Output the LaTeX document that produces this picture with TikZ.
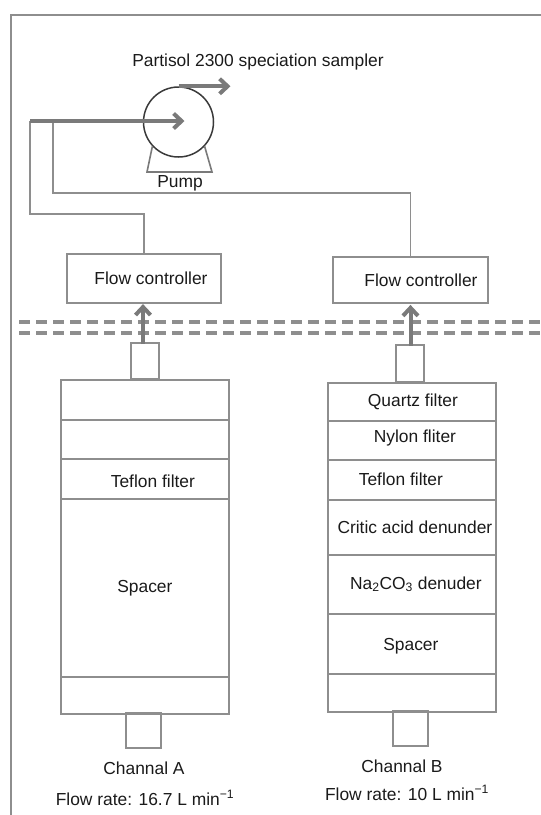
\documentclass[tikz,border=0pt]{standalone}
\usepackage{fontspec}
\setmainfont{Liberation Sans}
\usetikzlibrary{arrows.meta,positioning}

\definecolor{linegray}{HTML}{8E8E8E}
\definecolor{flowgray}{HTML}{7A7A7A}
\definecolor{pumpdark}{HTML}{3A3A3A}
\definecolor{txtdark}{HTML}{1A1A1A}

\begin{document}
\begin{tikzpicture}[x=1pt,y=-1pt,
    every node/.style={font=\fontsize{17.4}{20}\selectfont,text=txtdark},
    pipe/.style={draw=linegray,line width=1.8pt},
    flow/.style={draw=flowgray,line width=4pt,-{Straight Barb[length=8pt,width=15pt]}},
    rail/.style={draw=linegray,line width=4pt,dash pattern=on 11pt off 6pt},
    ctrlbox/.style={draw=linegray,line width=1.8pt,inner sep=0pt},
    layer/.style={draw=linegray,line width=1.8pt,minimum width=168pt,inner sep=0pt,anchor=north west},
    tube/.style={draw=linegray,line width=1.8pt,inner sep=0pt}]

\useasboundingbox (0,0) rectangle (541,815);

% Marco
\draw[pipe] (11,815) -- (11,15) -- (541,15);

% Titulo
\node (title) at (258,62) {Partisol 2300 speciation sampler};

% Bomba
\node[circle,draw=pumpdark,line width=1.5pt,minimum size=70pt,inner sep=0pt] (pump) at (178.5,122) {};
\draw[draw=flowgray,line width=1.6pt] (pump.-137) -- (147,172) -- (212,172) -- (pump.-43);
\node (pumplbl) at (180,183) {Pump};
\draw[flow] (pump.north) -- ++(52,0);

% Controladores de flujo
\node[ctrlbox,minimum width=154pt,minimum height=49pt] (fcA) at (144,278.5) {};
\node at ([xshift=7pt]fcA.center) {Flow controller};
\node[ctrlbox,minimum width=155pt,minimum height=46pt] (fcB) at (410.5,280) {};
\node at ([xshift=10.5pt]fcB.center) {Flow controller};

% Tuberias hacia la bomba
\coordinate (inA) at (30,121);
\coordinate (inB) at (53,121);
\draw[pipe] (fcA.north) |- (30,214) -- (inA);
\draw[pipe] (fcB.north) |- (53,193) -- (inB);
\draw[flow] (inA) -- ([xshift=6pt,yshift=1pt]pump.center);

% Lineas discontinuas
\foreach \y in {322,332.5} {
    \draw[rail] (19,\y) -- (541,\y);
}

% Canal A
\foreach \t/\b [count=\i] in {379/419,419/458,458/498,498/676,676/713} {
    \node[layer,minimum height={\b-\t}] (A\i) at (60,\t) {};
}
\node[tube,minimum width=28pt,minimum height=36pt] (topA) at (145,361) {};
\node[tube,minimum width=35pt,minimum height=35pt] (botA) at (143.5,730.5) {};
\node at ([xshift=8pt,yshift=-2pt]A3.center) {Teflon filter};
\node at (A4.center) {Spacer};
\draw[flow] (fcA.south |- topA.north) ++(-1,2) -- ++(0,-40);

% Canal B
\foreach \t/\b [count=\i] in {382/420,420/459,459/499,499/554,554/613,613/673,673/711} {
    \node[layer,minimum height={\b-\t}] (B\i) at (327,\t) {};
}
\node[tube,minimum width=28pt,minimum height=37pt] (topB) at (410,363.5) {};
\node[tube,minimum width=35pt,minimum height=35pt] (botB) at (410.5,728.5) {};
\node at ([xshift=1pt]B1.center) {Quartz filter};
\node at ([xshift=3pt,yshift=2pt]B2.center) {Nylon fliter};
\node at ([xshift=-11pt,yshift=1pt]B3.center) {Teflon filter};
\node at ([xshift=3pt]B4.center) {Critic acid denunder};
\node at ([xshift=4pt]B5.center) {Na\textsubscript{2}CO\textsubscript{3} denuder};
\node at ([xshift=-1pt,yshift=-2pt]B6.center) {Spacer};
\draw[flow] (fcB.south |- topB.north) ++(0,2) -- ([yshift=-1pt]fcB.south);

% Textos inferiores
\node (chA) at (144,768) {Channal A};
\node (rateA) at (145,798) {Flow rate: 16.7 L min\textsuperscript{\char"2212 1}};
\node (chB) at (402,766) {Channal B};
\node (rateB) at (407,793) {Flow rate: 10 L min\textsuperscript{\char"2212 1}};

\end{tikzpicture}
\end{document}
